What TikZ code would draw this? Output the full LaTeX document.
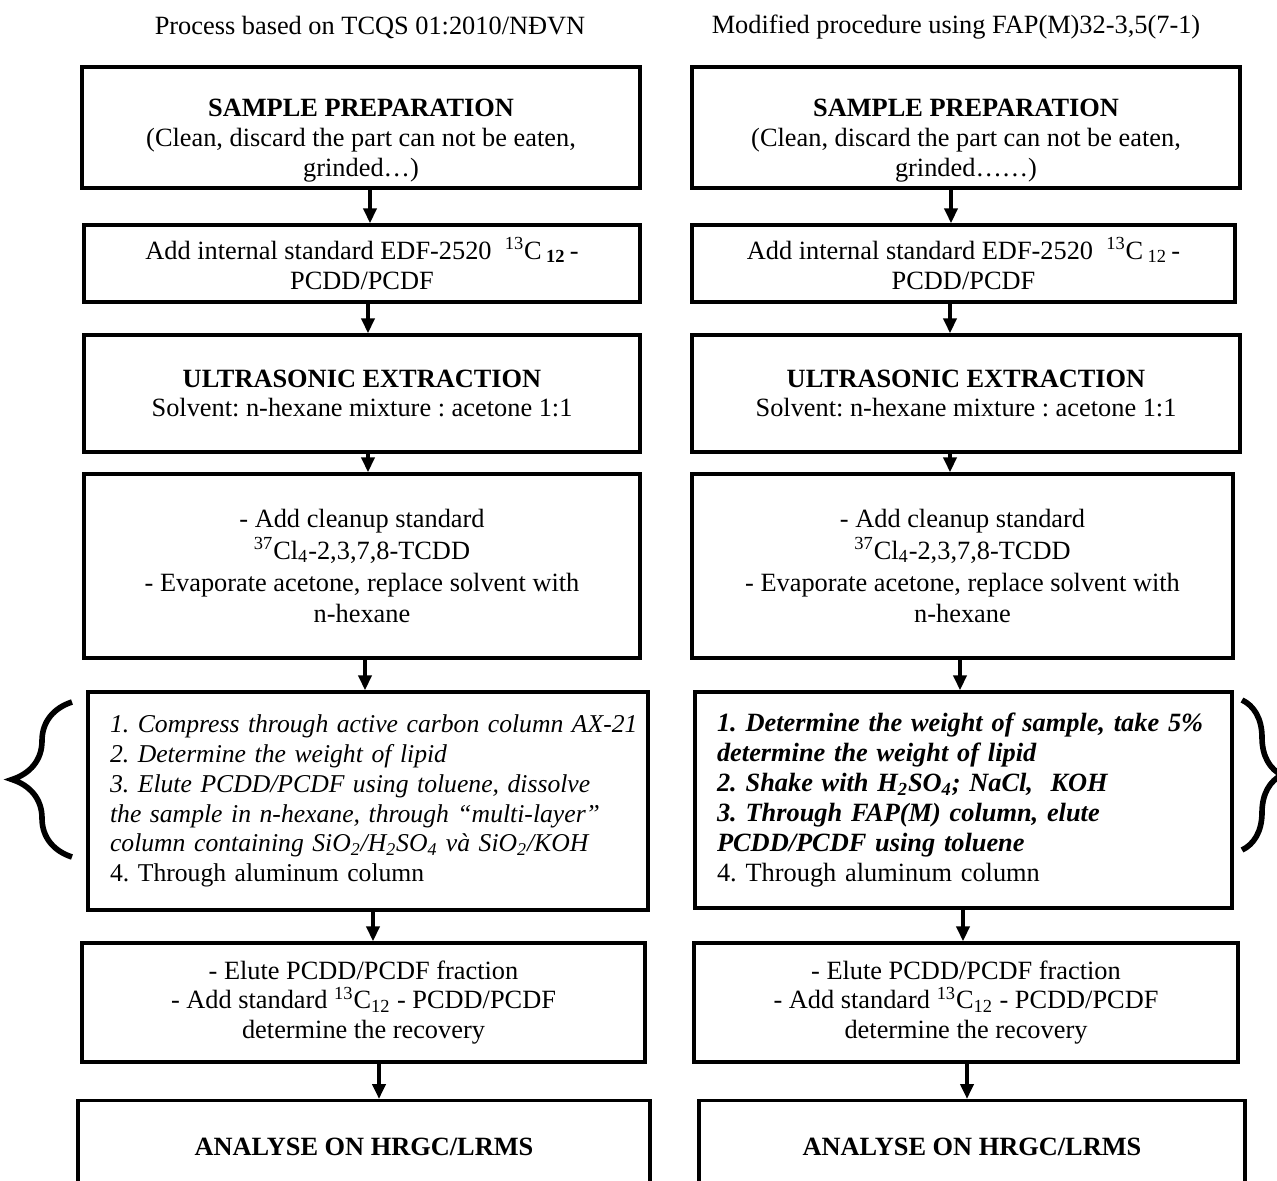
\documentclass[tikz,border=0pt]{standalone}
\usepackage{fontspec}
\setmainfont{Liberation Serif}
\usetikzlibrary{arrows.meta,decorations.pathreplacing}
\frenchspacing

\begin{document}
\begin{tikzpicture}[
    x=0.02cm, y=-0.02cm, % one unit = one pixel of the sheet, y pointing down
    >={Triangle[length=0.3cm,width=0.26cm]},
    % Box style: size in pixels {width}{height}
    box/.style 2 args={draw,line width=1.9pt,align=center,inner sep=0pt,
        minimum width=#1*0.02cm,minimum height=#2*0.02cm,font=\fontsize{15}{17}\selectfont},
    % List box: left aligned lines, 22px indent
    lst/.style={align=left,inner xsep=0.44cm,text width=#1},
    flow/.style={->,line width=2.2pt},
    ttl/.style={font=\fontsize{15}{17}\selectfont},
    brc/.style={decorate,decoration={brace,amplitude=#1},line width=3.2pt}
]
\useasboundingbox (0,0) rectangle (1277,1180);
\clip (0,0) rectangle (1277,1180);

% ==============================
% TITLES
% ==============================
\node[ttl] (tL) at (370,27) {Process based on TCQS 01:2010/NĐVN};
\node[ttl] (tR) at (956,27) {Modified procedure using FAP(M)32-3,5(7-1)};

% ==============================
% LEFT COLUMN
% ==============================
\node[box={558}{121}] (L1) at (361,127.5)
    {\rule{0pt}{0.86cm}\textbf{SAMPLE PREPARATION}\\(Clean, discard the part can not be eaten,\\grinded…)};
\node[box={556}{77}] (L2) at (362,263.5)
    {Add internal standard EDF-2520~ \textsuperscript{13}C\,\textsubscript{\textbf{12}}\,-\\PCDD/PCDF};
\node[box={556}{117}] (L3) at (362,393.5)
    {\textbf{ULTRASONIC EXTRACTION}\\Solvent: n-hexane mixture : acetone 1:1};
\node[box={556}{184}] (L4) at (362,566)
    {- Add cleanup standard\\[1.2pt]\textsuperscript{37}Cl\textsubscript{4}-2,3,7,8-TCDD\\[1.2pt]- Evaporate acetone, replace solvent with\\[1.2pt]n-hexane};
\node[box={560}{218},lst=10.32cm,font=\fontsize{14.6}{17}\selectfont] (L5) at (368,801)
    {\mbox{\textit{1. Compress through active carbon column AX-21}}\\
     \mbox{\textit{2. Determine the weight of lipid}}\\
     \mbox{\textit{3. Elute PCDD/PCDF using toluene, dissolve}}\\
     \mbox{\textit{the sample in n-hexane, through “multi-layer”}}\\
     \mbox{\textit{column containing SiO\textsubscript{2}/H\textsubscript{2}SO\textsubscript{4} và SiO\textsubscript{2}/KOH}}\\
     \mbox{4. Through aluminum column}};
\node[box={563}{119}] (L6) at (363.5,1002.5)
    {- Elute PCDD/PCDF fraction\\- Add standard \textsuperscript{13}C\textsubscript{12} - PCDD/PCDF\\determine the recovery};
\node[box={572}{0},anchor=north,text height=1.1cm,text depth=2cm] (L7) at (364,1099)
    {\textbf{ANALYSE ON HRGC/LRMS}};

% DOWNWARD ARROWS (left)
\draw[flow] (L1.south -| 370,0) -- (L2.north -| 370,0);
\draw[flow] (L2.south -| 368,0) -- (L3.north -| 368,0);
\draw[flow] (L3.south -| 368,0) -- (L4.north -| 368,0);
\draw[flow] (L4.south -| 365,0) -- (L5.north -| 365,0);
\draw[flow] (L5.south -| 373,0) -- (L6.north -| 373,0);
\draw[flow] (L6.south -| 379,0) -- (L7.north -| 379,0);

% ==============================
% RIGHT COLUMN
% ==============================
\node[box={548}{121}] (R1) at (966,127.5)
    {\rule{0pt}{0.86cm}\textbf{SAMPLE PREPARATION}\\(Clean, discard the part can not be eaten,\\grinded……)};
\node[box={543}{77}] (R2) at (963.5,263.5)
    {Add internal standard EDF-2520~ \textsuperscript{13}C\,\textsubscript{12}\,-\\PCDD/PCDF};
\node[box={548}{117}] (R3) at (966,393.5)
    {\textbf{ULTRASONIC EXTRACTION}\\Solvent: n-hexane mixture : acetone 1:1};
\node[box={541}{184}] (R4) at (962.5,566)
    {- Add cleanup standard\\[1.2pt]\textsuperscript{37}Cl\textsubscript{4}-2,3,7,8-TCDD\\[1.2pt]- Evaporate acetone, replace solvent with\\[1.2pt]n-hexane};
\node[box={537}{216},lst=9.86cm] (R5) at (963.5,800)
    {\mbox{\textbf{\textit{1. Determine the weight of sample, take 5\%}}}\\
     \mbox{\textbf{\textit{determine the weight of lipid}}}\\
     \mbox{\textbf{\textit{2. Shake with H\textsubscript{2}SO\textsubscript{4}; NaCl,~ KOH}}}\\
     \mbox{\textbf{\textit{3. Through FAP(M) column, elute}}}\\
     \mbox{\textbf{\textit{PCDD/PCDF using toluene}}}\\
     \mbox{4. Through aluminum column}};
\node[box={544}{119}] (R6) at (966,1002.5)
    {- Elute PCDD/PCDF fraction\\- Add standard \textsuperscript{13}C\textsubscript{12} - PCDD/PCDF\\determine the recovery};
\node[box={546}{0},anchor=north,text height=1.1cm,text depth=2cm] (R7) at (972,1099)
    {\textbf{ANALYSE ON HRGC/LRMS}};

% DOWNWARD ARROWS (right)
\draw[flow] (R1.south -| 951,0) -- (R2.north -| 951,0);
\draw[flow] (R2.south -| 950,0) -- (R3.north -| 950,0);
\draw[flow] (R3.south -| 950,0) -- (R4.north -| 950,0);
\draw[flow] (R4.south -| 960,0) -- (R5.north -| 960,0);
\draw[flow] (R5.south -| 963,0) -- (R6.north -| 963,0);
\draw[flow] (R6.south -| 967,0) -- (R7.north -| 967,0);

% ==============================
% BRACES next to the clean-up boxes
% ==============================
\draw[brc=1.2cm] (72,857) -- (72,702);
\draw[brc=0.8cm] (1242,700) -- (1242,850);
\end{tikzpicture}
\end{document}
